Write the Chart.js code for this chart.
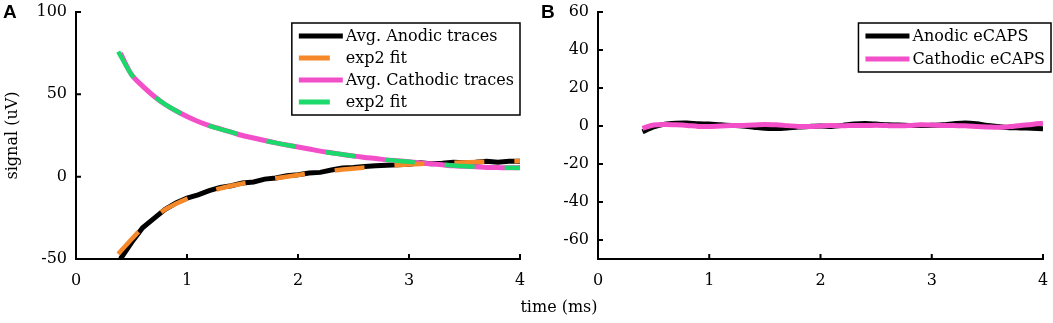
<!DOCTYPE html>
<html>
<head>
    <title>eCAP traces</title>
    <script src="https://cdn.jsdelivr.net/npm/chart.js@4/dist/chart.umd.min.js"></script>
    <style type="text/css">
        body { margin: 0; background: #fff; }
        #page { position: relative; width: 1053px; height: 323px; overflow: hidden; }
        .panel { position: absolute; top: 0; height: 323px; }
        #panel-a { left: 0; width: 530px; }
        #panel-b { left: 530px; width: 523px; }
        .tag { position: absolute; top: 1px; font: bold 19px "Liberation Sans", Arial, sans-serif; }
        #xtitle { position: absolute; left: 459px; width: 200px; top: 297px; text-align: center;
                  font: 16px "DejaVu Serif", serif; }
    </style>
</head>
<body>
<div id="page">
    <div class="panel" id="panel-a"><canvas id="chartA"></canvas></div>
    <div class="panel" id="panel-b"><canvas id="chartB"></canvas></div>
    <div class="tag" style="left:3px">A</div>
    <div class="tag" style="left:541px">B</div>
    <div id="xtitle">time (ms)</div>
</div>

<script>
    // sample times (ms)
    var traceTime = [0.4, 0.5, 0.6, 0.7, 0.8, 0.9, 1.0, 1.1, 1.2, 1.3, 1.4, 1.5, 1.6, 1.7, 1.8, 1.9,
        2.0, 2.1, 2.2, 2.3, 2.4, 2.5, 2.6, 2.7, 2.8, 2.9, 3.0, 3.1, 3.2, 3.3, 3.4, 3.5, 3.6, 3.7, 3.8, 3.9, 4.0];
    var fitTime = [0.38, 0.5, 0.6, 0.7, 0.8, 0.9, 1.0, 1.2, 1.4, 1.6, 1.8, 2.0, 2.2, 2.4, 2.6, 2.8,
        3.0, 3.2, 3.4, 3.6, 3.8, 4.0];

    // panel A (uV)
    var anodicTrace = [-50, -40, -31, -25.5, -20, -16, -13, -11, -8.5, -6.5, -5.5, -3.8, -3.2, -1.5, -0.8, 0.5,
        1.2, 2.2, 2.6, 4, 5.2, 5.6, 6.2, 6.6, 7, 7.2, 7.6, 8.4, 7.8, 8.2, 8.8, 8.4, 8.8, 9.4, 8.8, 9.3, 9.3];
    var anodicFit = [-47, -38, -31, -25, -20, -16.5, -13.5, -9, -5.5, -3, -1, 1, 2.8, 4.3, 5.6, 6.6,
        7.4, 8.0, 8.5, 8.9, 9.2, 9.5];
    var cathodicTrace = [75, 62, 55, 49, 44, 40, 36.5, 33.5, 31, 29, 27, 25, 23.5, 22, 20.5, 19.2,
        18, 16.8, 15.5, 14.5, 13.5, 12.6, 11.7, 11, 10.2, 9.6, 9, 8.3, 7.8, 7.2, 6.6, 6.3, 6, 5.6, 5.5, 5.4, 5.5];
    var cathodicFit = [76, 62, 55, 49, 44, 40, 36.5, 31, 27, 23.5, 20.5, 18, 15.5, 13.5, 11.7, 10.2,
        9, 7.8, 6.8, 6, 5.5, 5.3];

    // panel B (uV)
    var anodicECAP = [-3, -0.5, 1, 1.5, 1.6, 1.2, 1.0, 0.6, 0.3, 0, -0.6, -1.2, -1.3, -1, -0.5, -0.2,
        0, -0.2, 0.3, 1.0, 1.3, 1.0, 0.6, 0.5, 0.3, 0.2, 0.4, 0.6, 1.2, 1.6, 1.2, 0.3, -0.3, -0.9, -1.0, -1.2, -1.5];
    var cathodicECAP = [-1.2, 0.5, 0.8, 0.6, 0.3, -0.2, -0.3, 0, 0.2, 0.3, 0.5, 0.8, 0.6, 0.2, -0.2, -0.3,
        0, 0.2, 0.1, 0.3, 0.2, 0.4, 0.2, 0.1, 0.3, 0.6, 0.5, 0.3, 0.2, 0.1, -0.2, -0.5, -0.7, -0.3, 0.3, 0.8, 1.5];

    var xTicks = [0, 1, 2, 3, 4];
    var yTicksA = [-50, 0, 50, 100];
    var yTicksB = [-60, -40, -20, 0, 20, 40, 60];

    var BLACK = "#000000";
    var ORANGE = "#F5892A";
    var PINK = "#F24FC8";
    var GREEN = "#1BD96A";
    var serif = '"DejaVu Serif", serif';

    function pts(xs, ys) {
        return xs.map(function (x, i) { return { x: x, y: ys[i] }; });
    }

    // ticks pointing into the plot, like matlab
    var innerTicks = {
        id: "innerTicks",
        afterDraw: function (chart) {
            var ctx = chart.ctx, area = chart.chartArea;
            ctx.save();
            ctx.strokeStyle = "#000";
            ctx.lineWidth = 2;
            ctx.beginPath();
            chart.scales.x.ticks.forEach(function (t) {
                var px = chart.scales.x.getPixelForValue(t.value);
                ctx.moveTo(px, area.bottom);
                ctx.lineTo(px, area.bottom - 5);
            });
            chart.scales.y.ticks.forEach(function (t) {
                var py = chart.scales.y.getPixelForValue(t.value);
                ctx.moveTo(area.left, py);
                ctx.lineTo(area.left + 5, py);
            });
            ctx.stroke();
            ctx.restore();
        }
    };

    // boxed legend in the top right corner
    var boxLegend = {
        id: "boxLegend",
        afterDraw: function (chart, args, opts) {
            var ctx = chart.ctx, area = chart.chartArea;
            var items = chart.data.datasets.slice().sort(function (a, b) { return a.legendIndex - b.legendIndex; });
            ctx.save();
            ctx.font = "16px " + serif;
            var textW = 0;
            items.forEach(function (d) { textW = Math.max(textW, ctx.measureText(d.label).width); });
            var lineLen = 44, padL = 7, gap = 3, padR = 6, rowH = opts.rowH, padT = 13;
            var w = padL + lineLen + gap + textW + padR;
            var h = padT * 2 + rowH * (items.length - 1);
            var right = area.right + opts.offsetX;
            var left = right - w;
            var top = area.top + 11;
            ctx.fillStyle = "#fff";
            ctx.fillRect(left, top, w, h);
            ctx.lineWidth = 1.5;
            ctx.strokeStyle = "#000";
            ctx.strokeRect(left, top, w, h);
            items.forEach(function (d, i) {
                var y = top + padT + i * rowH;
                ctx.beginPath();
                ctx.lineWidth = 5;
                ctx.strokeStyle = d.borderColor;
                ctx.moveTo(left + padL, y);
                ctx.lineTo(left + padL + (d.borderDash ? 31 : lineLen), y);
                ctx.stroke();
                ctx.fillStyle = "#000";
                ctx.textBaseline = "middle";
                ctx.fillText(d.label, left + padL + lineLen + gap, y + 1);
            });
            ctx.restore();
        }
    };

    // label gap comes from an invisible tick length, so it does not eat into the plot width
    function axisOptions(yMin, yMax, yTicks, yWidth, yTitle) {
        return {
            x: {
                type: "linear",
                min: 0,
                max: 4,
                grid: { display: false, drawTicks: true, tickLength: 12, tickColor: "rgba(0,0,0,0)" },
                border: { color: "#000", width: 2 },
                afterBuildTicks: function (scale) {
                    scale.ticks = xTicks.map(function (v) { return { value: v }; });
                },
                afterFit: function (scale) { scale.height = 64; },
                ticks: { color: "#000", padding: 0, font: { family: serif, size: 16 } }
            },
            y: {
                min: yMin,
                max: yMax,
                grid: { display: false, drawTicks: true, tickLength: 9, tickColor: "rgba(0,0,0,0)" },
                border: { color: "#000", width: 2 },
                afterBuildTicks: function (scale) {
                    scale.ticks = yTicks.map(function (v) { return { value: v }; });
                },
                afterFit: function (scale) { scale.width = yWidth; },
                ticks: { color: "#000", padding: 0, font: { family: serif, size: 16 } },
                title: {
                    display: !!yTitle,
                    text: yTitle,
                    color: "#000",
                    padding: { top: 3, bottom: 0 },
                    font: { family: serif, size: 16 }
                }
            }
        };
    }

    Chart.defaults.animation = false;

    var chartA = new Chart(document.getElementById("chartA"), {
        type: "line",
        data: {
            datasets: [
                { label: "Avg. Anodic traces", legendIndex: 0, order: 4, data: pts(traceTime, anodicTrace),
                  borderColor: BLACK, borderWidth: 5, pointRadius: 0, tension: 0 },
                { label: "exp2 fit", legendIndex: 1, order: 2, data: pts(fitTime, anodicFit),
                  borderColor: ORANGE, borderWidth: 4.5, borderDash: [30, 30], pointRadius: 0,
                  cubicInterpolationMode: "monotone" },
                { label: "Avg. Cathodic traces", legendIndex: 2, order: 3, data: pts(traceTime, cathodicTrace),
                  borderColor: PINK, borderWidth: 5, pointRadius: 0, tension: 0.3 },
                { label: "exp2 fit", legendIndex: 3, order: 1, data: pts(fitTime, cathodicFit),
                  borderColor: GREEN, borderWidth: 4.5, borderDash: [30, 30], pointRadius: 0,
                  cubicInterpolationMode: "monotone" }
            ]
        },
        options: {
            responsive: true,
            maintainAspectRatio: false,
            layout: { autoPadding: false, padding: { top: 12, right: 10, bottom: 0, left: 0 } },
            scales: axisOptions(-50, 100, yTicksA, 76, "signal (uV)"),
            plugins: {
                legend: { display: false },
                tooltip: { enabled: false },
                boxLegend: { offsetX: 0, rowH: 22 }
            }
        },
        plugins: [innerTicks, boxLegend]
    });

    var chartB = new Chart(document.getElementById("chartB"), {
        type: "line",
        data: {
            datasets: [
                { label: "Anodic eCAPS", legendIndex: 0, order: 2, data: pts(traceTime, anodicECAP),
                  borderColor: BLACK, borderWidth: 5, pointRadius: 0, tension: 0.3 },
                { label: "Cathodic eCAPS", legendIndex: 1, order: 1, data: pts(traceTime, cathodicECAP),
                  borderColor: PINK, borderWidth: 5, pointRadius: 0, tension: 0.3 }
            ]
        },
        options: {
            responsive: true,
            maintainAspectRatio: false,
            layout: { autoPadding: false, padding: { top: 12, right: 10, bottom: 0, left: 0 } },
            scales: axisOptions(-70, 60, yTicksB, 68, ""),
            plugins: {
                legend: { display: false },
                tooltip: { enabled: false },
                boxLegend: { offsetX: 8, rowH: 23 }
            }
        },
        plugins: [innerTicks, boxLegend]
    });
</script>
</body>
</html>
